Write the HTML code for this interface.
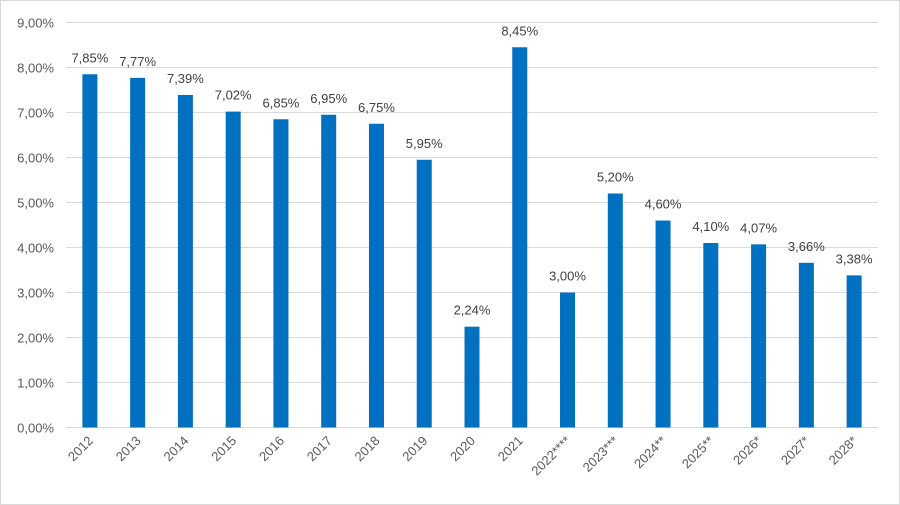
<!DOCTYPE html>
<html><head><meta charset="utf-8"><style>
html,body{margin:0;padding:0;background:#fff}
svg{display:block;font-family:"Liberation Sans",sans-serif}
</style></head><body>
<svg id="chart" width="900" height="505">
<rect x="0.5" y="0.5" width="899" height="504" fill="#fff" stroke="#d9d9d9"/>
<g id="grid"></g><g id="bars"></g><g id="labels"></g><g id="xlabels"></g><g id="ylabels"></g>
</svg>
<script>
const categories=["2012","2013","2014","2015","2016","2017","2018","2019","2020","2021","2022****","2023***","2024**","2025**","2026*","2027*","2028*"];
const values=[7.85,7.77,7.39,7.02,6.85,6.95,6.75,5.95,2.24,8.45,3.00,5.20,4.60,4.10,4.07,3.66,3.38];
const yTicks=[0,1,2,3,4,5,6,7,8,9];
const ns="http://www.w3.org/2000/svg";
const y0=427.5,pxPer=45,xStart=66,xEnd=878,bw=15;
const step=(xEnd-xStart)/categories.length;
const y=v=>y0-v*pxPer;
const xc=i=>xStart+step*(i+0.5);
const fmt=v=>v.toFixed(2).replace('.',',')+'%';
function mk(t,a,p){const e=document.createElementNS(ns,t);for(const k in a)e.setAttribute(k,a[k]);p.appendChild(e);return e;}
const G=document.getElementById('grid'),B=document.getElementById('bars'),L=document.getElementById('labels'),X=document.getElementById('xlabels'),Y=document.getElementById('ylabels');
yTicks.forEach(t=>{
 const l=mk('line',{x1:xStart,x2:xEnd,y1:y(t),y2:y(t),stroke:'#d9d9d9','stroke-width':1},G);
 
 
 const tx=mk('text',{x:54,y:y(t)+5,'text-anchor':'end','font-size':13,fill:'#595959'},Y);
 tx.textContent=fmt(t);
 
 
});
categories.forEach((c,i)=>{
 const v=values[i];
 const r=mk('rect',{x:xc(i)-bw/2,y:y(v),width:bw,height:y0-y(v),fill:'#0070c0'},B);
 
 
 const t=mk('text',{x:xc(i),y:y(v)-12,'text-anchor':'middle','font-size':13,fill:'#404040'},L);
 t.textContent=fmt(v);
 
 
 const xl=mk('text',{x:xc(i)+4,y:y0+14,'text-anchor':'end','font-size':13,fill:'#595959',transform:`rotate(-45 ${xc(i)+4} ${y0+14})`},X);
 xl.textContent=c;
 
 
});
</script>
</body></html>
